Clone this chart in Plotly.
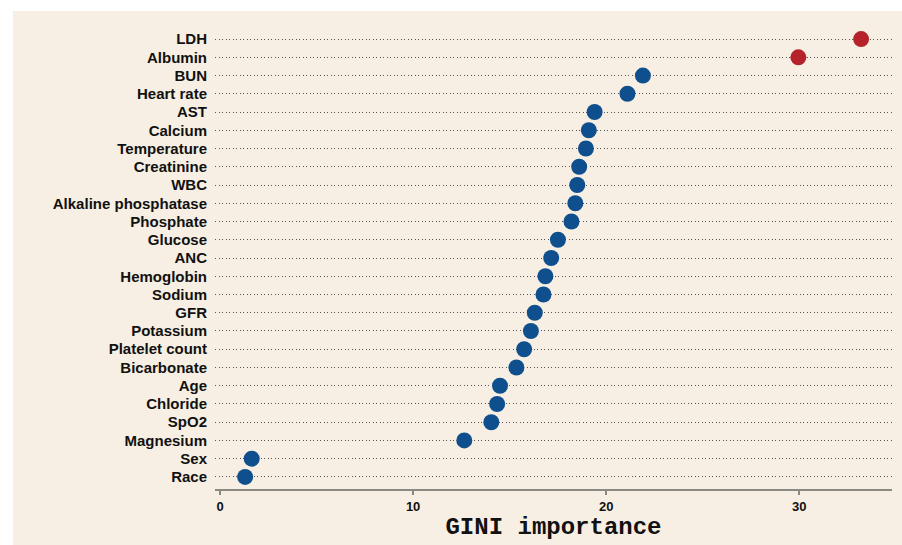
import plotly.graph_objects as go

features = ["LDH", "Albumin", "BUN", "Heart rate", "AST", "Calcium", "Temperature",
            "Creatinine", "WBC", "Alkaline phosphatase", "Phosphate", "Glucose", "ANC",
            "Hemoglobin", "Sodium", "GFR", "Potassium", "Platelet count", "Bicarbonate",
            "Age", "Chloride", "SpO2", "Magnesium", "Sex", "Race"]
gini = [33.2, 29.95, 21.9, 21.1, 19.4, 19.1, 18.95, 18.6, 18.5, 18.4, 18.2, 17.5, 17.15,
        16.85, 16.75, 16.3, 16.1, 15.75, 15.35, 14.5, 14.35, 14.05, 12.65, 1.64, 1.3]
top_features = ["LDH", "Albumin"]

BLUE = "#0f4f8e"
RED = "#b5222a"
BEIGE = "#f7efe3"

colors = [RED if f in top_features else BLUE for f in features]

# bottom-to-top order
feat_rev = features[::-1]
gini_rev = gini[::-1]
col_rev = colors[::-1]

fig = go.Figure()
fig.add_trace(go.Scatter(
    x=gini_rev, y=feat_rev, mode="markers",
    marker=dict(size=16, color=col_rev, line=dict(width=0)),
    showlegend=False, hoverinfo="x+y",
))

fig.update_layout(
    width=902, height=545,
    margin=dict(l=215, r=10, t=27, b=56),
    paper_bgcolor=BEIGE, plot_bgcolor=BEIGE,
    xaxis=dict(
        range=[-0.26, 34.8], tickvals=[0, 10, 20, 30],
        ticktext=["<b>0</b>", "<b>10</b>", "<b>20</b>", "<b>30</b>"],
        showgrid=False, zeroline=False,
        showline=True, linecolor="#8a8a82", linewidth=2,
        ticks="outside", ticklen=4, tickcolor="#8a8a82", tickwidth=1.5,
        tickfont=dict(family="Liberation Sans", size=13, color="#111"),
        title=dict(text="<b>GINI importance</b>",
                   font=dict(family="Liberation Mono", size=24, color="#111"),
                   standoff=2),
    ),
    yaxis=dict(
        type="category", categoryorder="array", categoryarray=feat_rev,
        tickvals=feat_rev, ticktext=["<b>%s</b>" % f for f in feat_rev],
        range=[-0.66, 24.66],
        showgrid=True, gridcolor="#555555", gridwidth=1.3, griddash="1px,2.5px",
        zeroline=False, showline=False, ticks="",
        ticklabelstandoff=7,
        tickfont=dict(family="Liberation Sans", size=15, color="#111"),
    ),
    shapes=[
        dict(type="rect", xref="paper", yref="paper", x0=-215/677, x1=1 + 10/677,
             y0=1 + 16/462, y1=1 + 27/462, fillcolor="white", line=dict(width=0), layer="below"),
        dict(type="rect", xref="paper", yref="paper", x0=-215/677, x1=-202/677,
             y0=-56/462, y1=1 + 27/462, fillcolor="white", line=dict(width=0), layer="below"),
    ],
)

fig.write_html("out.html", config={"displayModeBar": False},
               post_script="document.body.style.margin='0';")
